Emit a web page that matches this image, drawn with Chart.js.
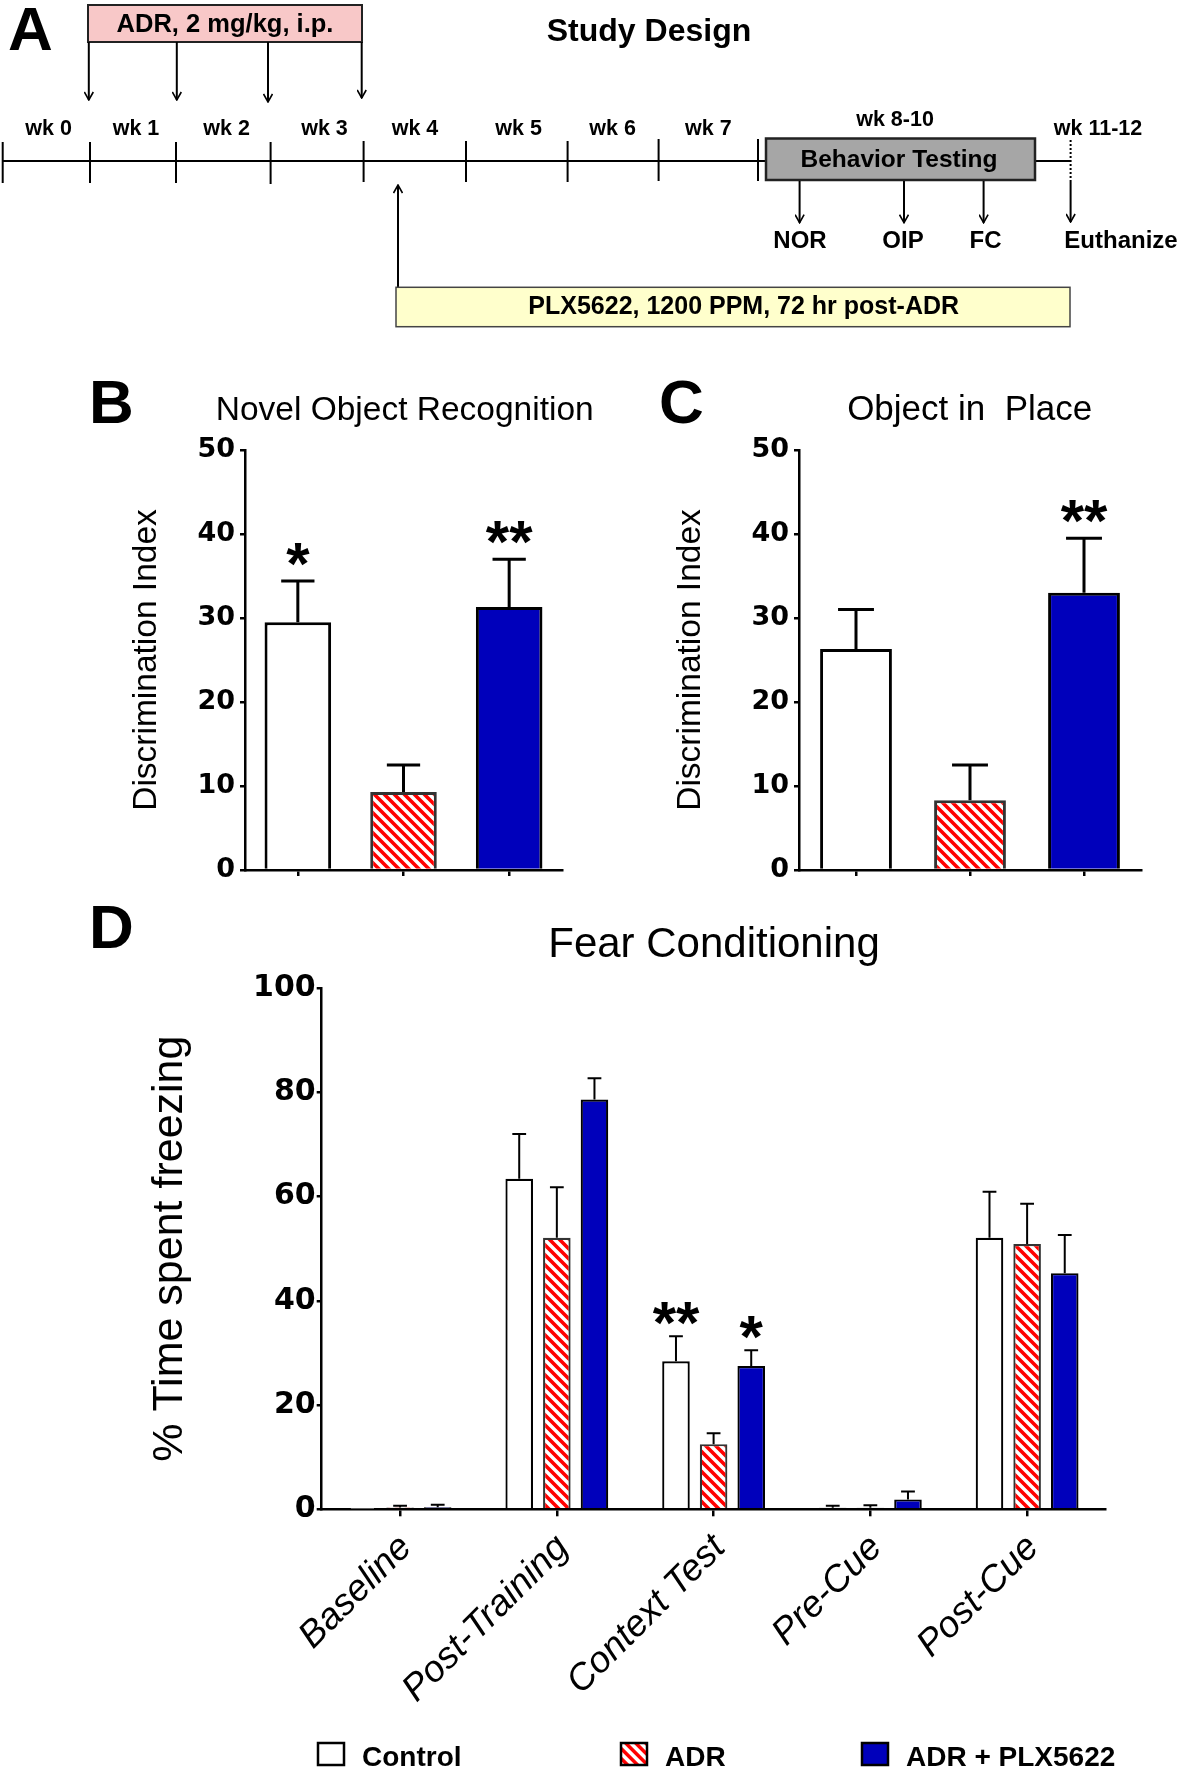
<!DOCTYPE html>
<html>
<head>
<meta charset="utf-8">
<title>Study design and behaviour</title>
<script src="https://cdn.jsdelivr.net/npm/chart.js@4.4.1/dist/chart.umd.min.js"></script>
<style>
    html, body { margin: 0; padding: 0; background: #fff; }
    #page { position: relative; width: 1181px; height: 1769px; overflow: hidden; font-family: 'Liberation Sans', Arial, sans-serif; }
    #page canvas { position: absolute; }
    #overlay { position: absolute; left: 0; top: 0; pointer-events: none; }
    #overlay text { font-family: 'Liberation Sans', Arial, sans-serif; fill: #000; }
    .b { font-weight: bold; }
</style>
</head>
<body>
<div id="page">
    <canvas id="norChart" width="480" height="520" style="left:100px; top:380px; width:480px; height:520px;"></canvas>
    <canvas id="oipChart" width="520" height="520" style="left:650px; top:380px; width:520px; height:520px;"></canvas>
    <canvas id="fcChart" width="1000" height="780" style="left:130px; top:960px; width:1000px; height:780px;"></canvas>

    <svg id="overlay" width="1181" height="1769" xmlns="http://www.w3.org/2000/svg">
        <defs>
            <marker id="head" viewBox="0 0 10 10" refX="9" refY="5" markerWidth="10" markerHeight="10" markerUnits="userSpaceOnUse" orient="auto">
                <path d="M1,0.5 L9,5 L1,9.5" fill="none" stroke="#000" stroke-width="1.6"/>
            </marker>
            <pattern id="hatch" width="7.07" height="7.07" patternUnits="userSpaceOnUse" patternTransform="rotate(-45)">
                <rect width="7.07" height="7.07" fill="#fff"/>
                <rect width="3.5" height="7.07" fill="#ff0000"/>
            </pattern>
        </defs>

        <!-- panel A: study design -->
        <text class="b" x="8" y="50" font-size="62">A</text>
        <text class="b" x="649" y="41" font-size="32" text-anchor="middle">Study Design</text>

        <rect x="88" y="5" width="274" height="37" fill="#f8c8c8" stroke="#222" stroke-width="2"/>
        <text class="b" x="225" y="32" font-size="25.5" text-anchor="middle">ADR, 2 mg/kg, i.p.</text>
        <g stroke="#000" stroke-width="2" marker-end="url(#head)">
            <line x1="88.8" y1="42" x2="88.8" y2="100"/>
            <line x1="176.8" y1="42" x2="176.8" y2="100"/>
            <line x1="268" y1="42" x2="268" y2="102"/>
            <line x1="361.7" y1="42" x2="361.7" y2="98"/>
        </g>

        <g stroke="#000" stroke-width="2">
            <line x1="2.7" y1="161" x2="766" y2="161"/>
            <line x1="1035" y1="161" x2="1070.6" y2="161"/>
            <line x1="2.7" y1="142" x2="2.7" y2="183"/>
            <line x1="90" y1="142" x2="90" y2="183"/>
            <line x1="176" y1="142" x2="176" y2="183"/>
            <line x1="270.6" y1="142" x2="270.6" y2="184"/>
            <line x1="363.6" y1="141" x2="363.6" y2="182"/>
            <line x1="466" y1="141" x2="466" y2="182"/>
            <line x1="567.6" y1="141" x2="567.6" y2="182"/>
            <line x1="658.6" y1="139" x2="658.6" y2="181"/>
            <line x1="758" y1="139" x2="758" y2="181"/>
        </g>
        <g font-size="21.5" text-anchor="middle">
            <text class="b" x="48.6" y="135">wk 0</text>
            <text class="b" x="136" y="135">wk 1</text>
            <text class="b" x="226.6" y="135">wk 2</text>
            <text class="b" x="324.5" y="135">wk 3</text>
            <text class="b" x="415" y="135">wk 4</text>
            <text class="b" x="518.6" y="135">wk 5</text>
            <text class="b" x="612.6" y="135">wk 6</text>
            <text class="b" x="708.4" y="135">wk 7</text>
            <text class="b" x="895" y="126">wk 8-10</text>
            <text class="b" x="1098" y="135">wk 11-12</text>
        </g>

        <rect x="766" y="138.5" width="269" height="41.5" fill="#a6a6a6" stroke="#222" stroke-width="2.5"/>
        <text class="b" x="899" y="167" font-size="24.5" text-anchor="middle">Behavior Testing</text>
        <line x1="1070.6" y1="140" x2="1070.6" y2="180" stroke="#000" stroke-width="2" stroke-dasharray="2,2"/>
        <g stroke="#000" stroke-width="2" marker-end="url(#head)">
            <line x1="799.6" y1="181" x2="799.6" y2="222.7"/>
            <line x1="904" y1="181" x2="904" y2="222.7"/>
            <line x1="983.6" y1="181" x2="983.6" y2="222.7"/>
            <line x1="1070.6" y1="180" x2="1070.6" y2="222"/>
            <line x1="398" y1="287" x2="398" y2="185"/>
        </g>
        <g font-size="24" text-anchor="middle">
            <text class="b" x="800" y="248">NOR</text>
            <text class="b" x="903" y="248">OIP</text>
            <text class="b" x="985.5" y="248">FC</text>
            <text class="b" x="1121" y="248">Euthanize</text>
        </g>

        <rect x="396" y="287.3" width="674" height="39.4" fill="#ffffcc" stroke="#444" stroke-width="1.5"/>
        <text class="b" x="743.7" y="313.5" font-size="25" text-anchor="middle">PLX5622, 1200 PPM, 72 hr post-ADR</text>

        <!-- panel letters and titles -->
        <text class="b" x="89" y="423" font-size="62">B</text>
        <text x="404.7" y="420" font-size="33.5" text-anchor="middle">Novel Object Recognition</text>
        <text class="b" x="659" y="423" font-size="62">C</text>
        <text x="969.7" y="420" font-size="35" text-anchor="middle" xml:space="preserve">Object in  Place</text>
        <text class="b" x="89" y="948" font-size="62">D</text>
        <text x="714" y="957" font-size="42" text-anchor="middle">Fear Conditioning</text>

        <g id="legend"></g>
    </svg>
</div>

<script>
// groups shared by every panel
const groups = ['Control', 'ADR', 'ADR + PLX5622'];

// B: novel object recognition (mean, SEM)
const norMean = [29.5, 9.3, 31.3];
const norSem = [4.9, 3.2, 5.7];
const norStars = ['*', '', '**'];

// C: object in place
const oipMean = [26.3, 8.3, 33.0];
const oipSem = [4.7, 4.2, 6.5];
const oipStars = ['', '', '**'];

// D: fear conditioning, % time freezing
const fcPhases = ['Baseline', 'Post-Training', 'Context Test', 'Pre-Cue', 'Post-Cue'];
const fcControl = [0.1, 63.4, 28.4, 0.3, 52.1];
const fcControlSem = [0, 8.6, 4.8, 0.4, 8.8];
const fcControlStars = ['', '', '**', '', ''];
const fcAdr = [0.35, 52.1, 12.5, 0.3, 50.9];
const fcAdrSem = [0.35, 9.7, 2.1, 0.5, 7.7];
const fcPlx = [0.4, 78.6, 27.5, 1.9, 45.3];
const fcPlxSem = [0.45, 4.1, 3.0, 1.5, 7.3];
const fcPlxStars = ['', '', '*', '', ''];

// axis ticks
const discTicks = { min: 0, max: 50, step: 10 };
const freezeTicks = { min: 0, max: 100, step: 20 };

const BLUE = '#0000bb';
const FONT = "'Liberation Sans', Arial, sans-serif";
const TICK_FONT = "'DejaVu Sans', Verdana, sans-serif";

Chart.defaults.font.family = FONT;
Chart.defaults.color = '#000';

function makeHatch() {
    const c = document.createElement('canvas');
    c.width = 10;
    c.height = 10;
    const g = c.getContext('2d');
    g.fillStyle = '#fff';
    g.fillRect(0, 0, 10, 10);
    g.strokeStyle = '#ff0000';
    g.lineWidth = 3.6;
    g.beginPath();
    g.moveTo(-5, -5); g.lineTo(15, 15);
    g.moveTo(-5, 5); g.lineTo(5, 15);
    g.moveTo(5, -5); g.lineTo(15, 5);
    g.stroke();
    return g.createPattern(c, 'repeat');
}
const hatch = makeHatch();

// upward SEM bars plus significance stars
const errorBars = {
    id: 'errorBars',
    afterDatasetsDraw(chart, args, opts) {
        const ctx = chart.ctx;
        const y = chart.scales.y;
        ctx.save();
        ctx.strokeStyle = '#000';
        ctx.lineWidth = opts.lineWidth || 2;
        chart.data.datasets.forEach((ds, i) => {
            if (!ds.errors) return;
            chart.getDatasetMeta(i).data.forEach((bar, j) => {
                const top = y.getPixelForValue(ds.data[j] + ds.errors[j]);
                const half = bar.width * 0.25;
                if (ds.errors[j] > 0) {
                    ctx.beginPath();
                    ctx.moveTo(bar.x, bar.y);
                    ctx.lineTo(bar.x, top);
                    ctx.moveTo(bar.x - half, top);
                    ctx.lineTo(bar.x + half, top);
                    ctx.stroke();
                }
                if (ds.stars && ds.stars[j]) {
                    ctx.fillStyle = '#000';
                    ctx.font = 'bold ' + (opts.starSize || 60) + 'px ' + FONT;
                    ctx.textAlign = 'center';
                    ctx.textBaseline = 'alphabetic';
                    ctx.fillText(ds.stars[j], bar.x, top + (opts.starDrop || 0));
                }
            });
        });
        ctx.restore();
    }
};

function yAxis(t, width, title, titleSize, titlePad, tickSize, tickPad) {
    return {
        min: t.min,
        max: t.max,
        ticks: { stepSize: t.step, font: { family: TICK_FONT, size: tickSize, weight: 'bold' }, padding: tickPad },
        grid: { drawOnChartArea: false, tickLength: 5, color: '#000', lineWidth: 2.5 },
        border: { display: true, color: '#000', width: 2.5 },
        title: { display: true, text: title, font: { size: titleSize }, padding: { top: titlePad, bottom: 0 } },
        afterFit: s => { s.width = width; }
    };
}

function smallChart(id, mean, sem, stars, yWidth, rightPad, titlePad) {
    return new Chart(document.getElementById(id), {
        type: 'bar',
        data: {
            labels: groups,
            datasets: [{
                data: mean,
                errors: sem,
                stars: stars,
                backgroundColor: ['#ffffff', hatch, BLUE],
                borderColor: ['#000', '#333', '#000'],
                borderWidth: 3,
                borderSkipped: 'bottom',
                categoryPercentage: 0.63,
                barPercentage: 1
            }]
        },
        options: {
            responsive: false,
            animation: false,
            devicePixelRatio: 1,
            layout: { padding: { top: 70, right: rightPad, left: 0, bottom: 0 } },
            plugins: {
                legend: { display: false },
                tooltip: { enabled: false },
                errorBars: { lineWidth: 3, starSize: 60, starDrop: 3 }
            },
            scales: {
                x: {
                    ticks: { display: false },
                    grid: { drawOnChartArea: false, offset: false, tickLength: 6, color: '#000', lineWidth: 2.5 },
                    border: { display: true, color: '#000', width: 2.5 },
                    afterFit: s => { s.height = 30; }
                },
                y: yAxis(discTicks, yWidth, 'Discrimination Index', 33.5, titlePad, 27, 5)
            }
        },
        plugins: [errorBars]
    });
}

smallChart('norChart', norMean, norSem, norStars, 145, 18, 27);
smallChart('oipChart', oipMean, oipSem, oipStars, 149, 29, 21);

const fcFills = ['#ffffff', hatch, BLUE];
const fcBorders = ['#000', '#333', '#000'];
const fcSeries = [
    { data: fcControl, errors: fcControlSem, stars: fcControlStars },
    { data: fcAdr, errors: fcAdrSem, stars: [] },
    { data: fcPlx, errors: fcPlxSem, stars: fcPlxStars }
];

new Chart(document.getElementById('fcChart'), {
    type: 'bar',
    data: {
        labels: fcPhases,
        datasets: fcSeries.map((s, i) => ({
            label: groups[i],
            data: s.data,
            errors: s.errors,
            stars: s.stars,
            backgroundColor: fcFills[i],
            borderColor: fcBorders[i],
            borderWidth: 2.2,
            borderSkipped: 'bottom',
            categoryPercentage: 0.72,
            barPercentage: 0.733
        }))
    },
    options: {
        responsive: false,
        animation: false,
        devicePixelRatio: 1,
        layout: { padding: { top: 28, right: 24.5, left: 0, bottom: 0 } },
        plugins: {
            legend: { display: false },
            tooltip: { enabled: false },
            errorBars: { lineWidth: 2, starSize: 60, starDrop: 7 }
        },
        scales: {
            x: {
                ticks: { autoSkip: false, maxRotation: 45, minRotation: 45, labelOffset: 6, font: { size: 37, style: 'italic' }, padding: 10 },
                grid: { drawOnChartArea: false, offset: false, tickLength: 7, color: '#000', lineWidth: 2.5 },
                border: { display: true, color: '#000', width: 2.5 },
                afterFit: s => { s.height = 230.7; }
            },
            y: yAxis(freezeTicks, 191.7, '% Time spent freezing', 43, 14, 30, 1)
        }
    },
    plugins: [errorBars]
});

// legend along the bottom edge
const legendX = [318, 621, 862];
const swatchFill = ['#ffffff', 'url(#hatch)', BLUE];
const svgNS = 'http://www.w3.org/2000/svg';
const legend = document.getElementById('legend');
groups.forEach((name, i) => {
    const r = document.createElementNS(svgNS, 'rect');
    r.setAttribute('x', legendX[i]);
    r.setAttribute('y', 1743);
    r.setAttribute('width', 26);
    r.setAttribute('height', 22);
    r.setAttribute('fill', swatchFill[i]);
    r.setAttribute('stroke', '#000');
    r.setAttribute('stroke-width', 2.5);
    legend.appendChild(r);
    const t = document.createElementNS(svgNS, 'text');
    t.setAttribute('x', legendX[i] + 44);
    t.setAttribute('y', 1766);
    t.setAttribute('font-size', 28);
    t.setAttribute('class', 'b');
    t.textContent = name;
    legend.appendChild(t);
});
</script>
</body>
</html>
